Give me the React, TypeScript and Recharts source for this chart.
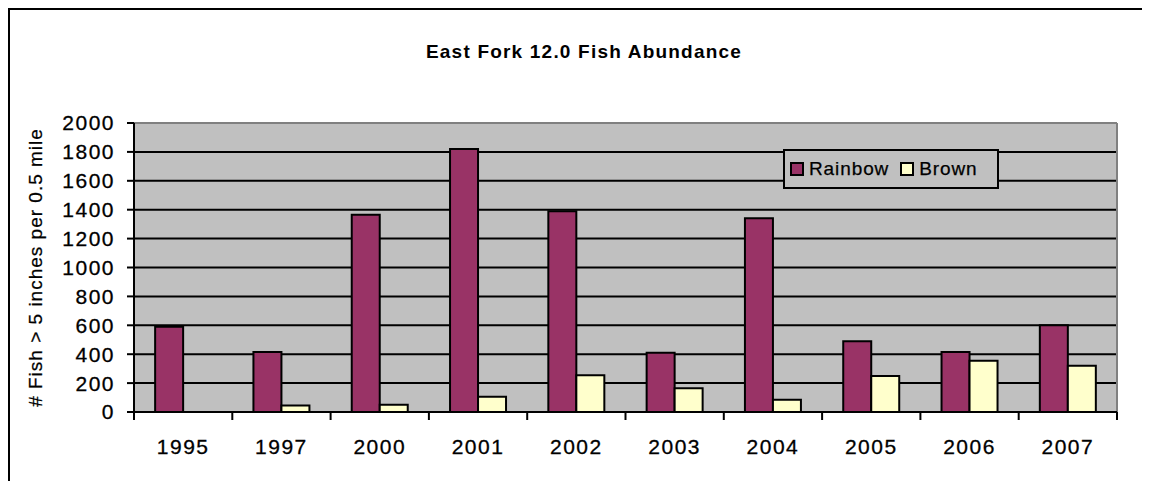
import React from 'react';
import {
  BarChart,
  Bar,
  XAxis,
  YAxis,
  CartesianGrid,
  ReferenceLine,
  Legend
} from 'recharts';

// Survey years and fish counts (> 5 inches per 0.5 mile)
const years = ['1995', '1997', '2000', '2001', '2002', '2003', '2004', '2005', '2006', '2007'];
const rainbow = [590, 415, 1365, 1820, 1390, 410, 1340, 490, 415, 600];
const brown = [0, 45, 50, 105, 255, 165, 85, 250, 355, 320];

const seriesOrder = ['Rainbow', 'Brown'];
const yTicks = [0, 200, 400, 600, 800, 1000, 1200, 1400, 1600, 1800, 2000];
// category boundaries, used for the tick marks between years
const edgeTicks = [0, 1, 2, 3, 4, 5, 6, 7, 8, 9, 10];

// axis ids: bottom axes stack in id order, the edge axis has to sit on the plot
const EDGE_AXIS = 0;
const YEAR_AXIS = 1;

const data = years.map((year, i) => ({
  year,
  slot: i,
  rainbow: rainbow[i],
  brown: brown[i]
}));

const chartConfig = {
  width: 1142,
  height: 473,
  font: '"Liberation Sans", Arial, sans-serif',
  colors: {
    rainbow: '#993366',
    brown: '#FFFFCC',
    plot: '#C0C0C0',
    frame: '#808080',
    ink: '#000000'
  }
};

const tickFont: React.CSSProperties = {
  fontFamily: chartConfig.font,
  fontSize: 21,
  letterSpacing: 1.5,
  fill: '#000',
  stroke: '#000',
  strokeWidth: 0.3
};

const XTick = ({ x, y, payload }: any) => (
  <text x={x} y={y} dy="0.71em" textAnchor="middle" style={tickFont}>
    {payload.value}
  </text>
);

const YTick = ({ x, y, payload }: any) => (
  <text x={x} y={y} dy="0.355em" textAnchor="end" style={tickFont}>
    {payload.value}
  </text>
);

const YTitle = ({ viewBox }: any) => {
  const cx = viewBox.x + 34;
  const cy = viewBox.y + viewBox.height / 2;
  return (
    <text
      x={cx}
      y={cy}
      textAnchor="middle"
      transform={`rotate(-90, ${cx}, ${cy})`}
      style={{
        fontFamily: chartConfig.font,
        fontSize: 19,
        letterSpacing: 1,
        fill: '#000',
        stroke: '#000',
        strokeWidth: 0.25
      }}
    >
      # Fish &gt; 5 inches per 0.5 mile
    </text>
  );
};

const LegendBox = ({ payload }: any) => {
  const items = [...(payload || [])].sort(
    (a: any, b: any) => seriesOrder.indexOf(a.value) - seriesOrder.indexOf(b.value)
  );
  return (
    <div
      style={{
        boxSizing: 'border-box',
        width: 216,
        height: 40,
        border: '2px solid #000',
        background: chartConfig.colors.plot,
        display: 'flex',
        alignItems: 'center',
        paddingLeft: 5,
        fontFamily: chartConfig.font,
        fontSize: 19,
        letterSpacing: 0.9,
        color: '#000',
        WebkitTextStroke: '0.25px #000'
      }}
    >
      {items.map((entry: any, i: number) => (
        <div key={entry.value} style={{ display: 'flex', alignItems: 'center', marginRight: i === 0 ? 11 : 0 }}>
          <span
            style={{
              boxSizing: 'border-box',
              width: 14,
              height: 14,
              border: '2px solid #000',
              background: entry.color,
              marginRight: 5
            }}
          />
          <span>{entry.value}</span>
        </div>
      ))}
    </div>
  );
};

export default function App() {
  const { colors } = chartConfig;
  return (
    <div style={{ position: 'relative', width: chartConfig.width, height: chartConfig.height, overflow: 'hidden' }}>
      <div
        style={{
          position: 'absolute',
          left: 0,
          top: 0,
          width: 2000,
          height: 2000,
          borderTop: '2px solid #000',
          borderLeft: '2px solid #000'
        }}
      />
      <div
        style={{
          position: 'absolute',
          left: 0,
          top: 34,
          width: 1152,
          textAlign: 'center',
          fontFamily: chartConfig.font,
          fontWeight: 'bold',
          fontSize: 19,
          lineHeight: '19px',
          letterSpacing: 1.2,
          color: '#000'
        }}
      >
        East Fork 12.0 Fish Abundance
      </div>
      <div style={{ position: 'absolute', left: 0, top: 0 }}>
        <BarChart
          width={chartConfig.width}
          height={chartConfig.height}
          data={data}
          margin={{ top: 115, right: 33, bottom: 0, left: 0 }}
          barCategoryGap="21.5%"
          barGap={0}
        >
          <CartesianGrid
            xAxisId={YEAR_AXIS}
            vertical={false}
            stroke={colors.ink}
            strokeWidth={2}
            fill={colors.plot}
            fillOpacity={1}
          />
          <XAxis
            xAxisId={EDGE_AXIS}
            type="number"
            dataKey="slot"
            domain={[0, 10]}
            ticks={edgeTicks}
            allowDataOverflow
            height={1}
            tickSize={8}
            tickFormatter={() => ''}
            axisLine={{ stroke: colors.ink, strokeWidth: 2 }}
            tickLine={{ stroke: colors.ink, strokeWidth: 2 }}
          />
          <XAxis
            xAxisId={YEAR_AXIS}
            dataKey="year"
            height={68}
            axisLine={false}
            tickLine={false}
            tickSize={0}
            tickMargin={26}
            tick={<XTick />}
            interval={0}
          />
          <YAxis
            domain={[0, 2000]}
            ticks={yTicks}
            width={126}
            tickSize={7}
            tickMargin={12}
            tick={<YTick />}
            axisLine={{ stroke: colors.ink, strokeWidth: 2 }}
            tickLine={{ stroke: colors.ink, strokeWidth: 2 }}
            label={{ content: <YTitle /> }}
          />
          <ReferenceLine y={2000} xAxisId={YEAR_AXIS} stroke={colors.frame} strokeWidth={2} />
          <ReferenceLine x={10} xAxisId={EDGE_AXIS} stroke={colors.frame} strokeWidth={2} />
          <Legend
            layout="horizontal"
            verticalAlign="middle"
            align="center"
            content={<LegendBox />}
            wrapperStyle={{ left: 775, top: 141, width: 216, height: 40 }}
          />
          <Bar
            xAxisId={YEAR_AXIS}
            dataKey="rainbow"
            name="Rainbow"
            fill={colors.rainbow}
            stroke={colors.ink}
            strokeWidth={2}
            isAnimationActive={false}
          />
          <Bar
            xAxisId={YEAR_AXIS}
            dataKey="brown"
            name="Brown"
            fill={colors.brown}
            stroke={colors.ink}
            strokeWidth={2}
            isAnimationActive={false}
          />
        </BarChart>
      </div>
    </div>
  );
}
